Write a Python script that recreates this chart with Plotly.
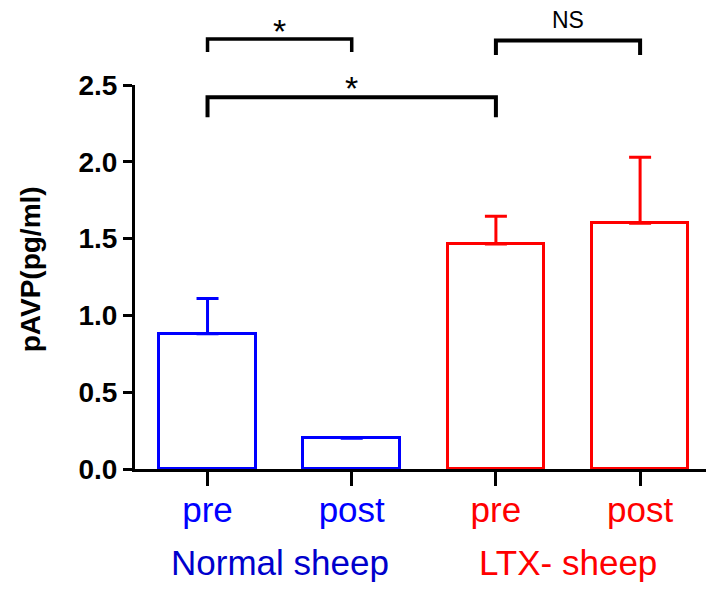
import plotly.graph_objects as go

# ---- data ----
conditions = ["pre", "post", "pre", "post"]
groups = ["Normal sheep", "LTX- sheep"]
normal_means = [0.88, 0.20]
normal_sem = [0.23, 0.0]
ltx_means = [1.465, 1.60]
ltx_sem = [0.18, 0.43]
y_ticks = [0.0, 0.5, 1.0, 1.5, 2.0, 2.5]

# significance brackets (category indices, heights in data units)
bracket_from = [0, 0, 2]
bracket_to = [1, 2, 3]
bracket_top = [2.80, 2.42, 2.79]
bracket_leg = [2.715, 2.29, 2.695]
bracket_text = ["*", "*", "NS"]
bracket_text_y = [2.85, 2.48, 2.92]

Y_MAX = 2.5
BLUE = "#0000FF"
RED = "#FF0000"
FONT = "Liberation Sans, Arial, sans-serif"

fig = go.Figure()
fig.add_trace(go.Bar(
    x=[0, 1], y=normal_means, width=0.67,
    marker=dict(color="white", line=dict(color=BLUE, width=3)),
    error_y=dict(type="data", symmetric=False, array=normal_sem,
                 arrayminus=[0, 0], color=BLUE, thickness=3, width=11),
    showlegend=False,
))
fig.add_trace(go.Bar(
    x=[2, 3], y=ltx_means, width=0.67,
    marker=dict(color="white", line=dict(color=RED, width=3)),
    error_y=dict(type="data", symmetric=False, array=ltx_sem,
                 arrayminus=[0, 0], color=RED, thickness=3, width=11),
    showlegend=False,
))

tick_colors = [BLUE, BLUE, RED, RED]
ticktext = [f"<span style='color:{c}'>{t}</span>" for t, c in zip(conditions, tick_colors)]

shapes = []
annotations = []
for a, b, top, leg, txt, ty in zip(bracket_from, bracket_to, bracket_top,
                                   bracket_leg, bracket_text, bracket_text_y):
    lw = 4 if (b - a) > 1 or txt == "NS" else 3.5
    shapes.append(dict(
        type="path", xref="x", yref="paper",
        path=f"M {a},{leg / Y_MAX} L {a},{top / Y_MAX} L {b},{top / Y_MAX} L {b},{leg / Y_MAX}",
        line=dict(color="black", width=lw),
    ))
    annotations.append(dict(
        x=(a + b) / 2, y=ty / Y_MAX, xref="x", yref="paper",
        text=txt, showarrow=False, xanchor="center", yanchor="middle",
        font=dict(family=FONT, size=34 if txt == "*" else 23, color="black"),
    ))

group_colors = ["#0000CC", RED]
for i, (g, c) in enumerate(zip(groups, group_colors)):
    annotations.append(dict(
        x=2 * i + 0.5, y=-0.243, xref="x", yref="paper",
        text=g, showarrow=False, xanchor="center", yanchor="middle",
        font=dict(family=FONT, size=35, color=c),
    ))

annotations.append(dict(
    x=-0.184, y=0.52, xref="paper", yref="paper", text="pAVP(pg/ml)",
    textangle=-90, showarrow=False, xanchor="center", yanchor="middle",
    font=dict(family=FONT, size=28, color="black", weight=700),
))

fig.update_layout(
    width=706, height=591,
    margin=dict(l=135, r=0, t=85, b=122),
    paper_bgcolor="white", plot_bgcolor="white",
    bargap=0,
    shapes=shapes,
    annotations=annotations,
    xaxis=dict(
        range=[-0.503, 3.457], tickvals=[0, 1, 2, 3], ticktext=ticktext,
        showline=True, linecolor="black", linewidth=3,
        ticks="outside", ticklen=14, tickwidth=3, tickcolor="black",
        tickfont=dict(family=FONT, size=35), ticklabelstandoff=-6,
        showgrid=False, zeroline=False,
    ),
    yaxis=dict(
        range=[0, Y_MAX], tickvals=y_ticks, tickformat=".1f",
        showline=True, linecolor="black", linewidth=3,
        ticks="outside", ticklen=9, tickwidth=3, tickcolor="black",
        tickfont=dict(family=FONT, size=28, color="black", weight=700),
        showgrid=False, zeroline=False,
    ),
)

fig.write_html("out.html")
